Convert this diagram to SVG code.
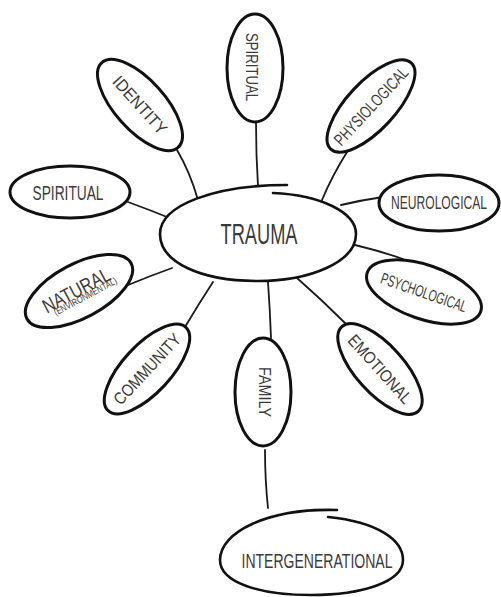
<svg xmlns="http://www.w3.org/2000/svg" width="501" height="597" viewBox="0 0 501 597">
<style>
.bub{fill:#fff;stroke:#111;stroke-width:3}
.hub{fill:#fff;stroke:#111;stroke-width:2.6;stroke-linecap:round}
.con{fill:none;stroke:#1a1a1a;stroke-width:1.8;stroke-linecap:round}
text{font-family:"Liberation Sans Narrow","Liberation Sans",Arial,sans-serif;fill:#3a3a3a;text-anchor:middle}
</style>
<rect width="501" height="597" fill="#fff"/>
<g id="connectors">
<path class="con" d="M256 122 Q256 155 258 186"/>
<path class="con" d="M177 150 Q190 172 198 200"/>
<path class="con" d="M128 202 Q150 210 172 219"/>
<path class="con" d="M347 152 Q332 176 322 200"/>
<path class="con" d="M383 197 Q362 200 341 205"/>
<path class="con" d="M355 245 Q380 251 403 259"/>
<path class="con" d="M297 278 Q322 300 345 323"/>
<path class="con" d="M268 282 Q270 310 271 338"/>
<path class="con" d="M213 282 Q198 305 185 327"/>
<path class="con" d="M172 268 Q150 276 128 285"/>
<path class="con" d="M265 450 Q265 480 268 508"/>
</g>
<g id="trauma">
<path class="hub" d="M273 193 C320 195 356 212 356 234 C356 262 310 281 258 281 C200 281 160 262 160 234 C160 205 215 185 287 185"/>
<text x="259" y="244" font-size="29" textLength="77" lengthAdjust="spacingAndGlyphs">TRAUMA</text>
</g>
<g id="spiritual-top">
<ellipse class="bub" cx="255" cy="68" rx="28" ry="54"/>
<text transform="translate(252,67) rotate(90)" y="6" font-size="17" textLength="68" lengthAdjust="spacingAndGlyphs">SPIRITUAL</text>
</g>
<g id="identity" transform="translate(140,105) rotate(48)">
<ellipse class="bub" rx="57" ry="25"/>
<text y="6" font-size="17" textLength="72" lengthAdjust="spacingAndGlyphs">IDENTITY</text>
</g>
<g id="spiritual-left">
<ellipse class="bub" cx="70" cy="192" rx="60" ry="26"/>
<text x="68" y="200" font-size="20" textLength="71" lengthAdjust="spacingAndGlyphs">SPIRITUAL</text>
</g>
<g id="physiological" transform="translate(371,106) rotate(-47)">
<ellipse class="bub" rx="59" ry="24"/>
<text y="6" font-size="17" textLength="100" lengthAdjust="spacingAndGlyphs">PHYSIOLOGICAL</text>
</g>
<g id="neurological">
<ellipse class="bub" cx="439" cy="203" rx="60" ry="28"/>
<text transform="translate(439,209) scale(1,1.4)" font-size="12.5" textLength="96" lengthAdjust="spacingAndGlyphs">NEUROLOGICAL</text>
</g>
<g id="psychological" transform="translate(424,292) rotate(19)">
<ellipse class="bub" rx="60" ry="27"/>
<text transform="translate(0,6) scale(1,1.4)" font-size="11.5" textLength="90" lengthAdjust="spacingAndGlyphs">PSYCHOLOGICAL</text>
</g>
<g id="emotional" transform="translate(380,369) rotate(48)">
<ellipse class="bub" rx="57" ry="24"/>
<text y="6" font-size="17" textLength="86" lengthAdjust="spacingAndGlyphs">EMOTIONAL</text>
</g>
<g id="family">
<ellipse class="bub" cx="263" cy="392" rx="28" ry="54"/>
<text transform="translate(265,392) rotate(90)" y="6" font-size="17" textLength="50" lengthAdjust="spacingAndGlyphs">FAMILY</text>
</g>
<g id="community" transform="translate(147,369) rotate(-47)">
<ellipse class="bub" rx="57" ry="24"/>
<text y="6" font-size="17" textLength="90" lengthAdjust="spacingAndGlyphs">COMMUNITY</text>
</g>
<g id="natural" transform="translate(79,291) rotate(-28)">
<ellipse class="bub" rx="59" ry="27"/>
<text x="-2" y="5" font-size="20" textLength="74" lengthAdjust="spacingAndGlyphs">NATURAL</text>
<text x="3" y="11" font-size="9.5" textLength="70" lengthAdjust="spacingAndGlyphs">(ENVIRONMENTAL)</text>
</g>
<g id="intergenerational">
<path class="hub" d="M328 517 C378 522 403 540 403 560 C403 582 362 595 311 595 C258 595 220 582 220 560 C220 532 268 508 337 510"/>
<text x="317" y="568" font-size="21" textLength="151" lengthAdjust="spacingAndGlyphs">INTERGENERATIONAL</text>
</g>
</svg>
